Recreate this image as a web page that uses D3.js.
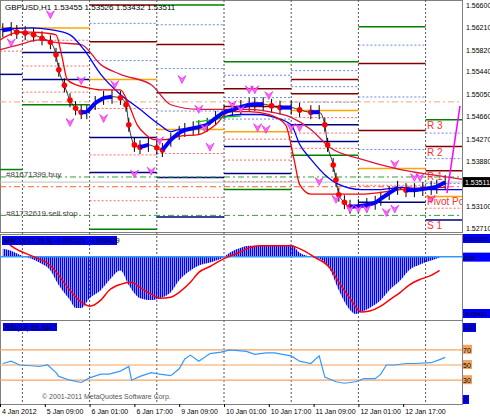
<!DOCTYPE html>
<html><head><meta charset="utf-8">
<script src="https://cdn.jsdelivr.net/npm/d3@7"></script>
<style>body{margin:0;background:#fff}svg{font-family:"Liberation Sans",Arial,sans-serif;font-size:8px}</style>
</head><body><svg id="c" width="490" height="420"></svg>
<script>
// bar index (H1) vs values
const priceData = [[1,1.5616],[4,1.5618],[6,1.5613],[9,1.5611],[12,1.5608],[15,1.5602],[18,1.5595],[20,1.5573],[21,1.5547],[23,1.5520],[25,1.5494],[27,1.5480],[29,1.5473],[31,1.5473],[34,1.5489],[37,1.5498],[40,1.5500],[43,1.5498],[45,1.5486],[46,1.5451],[48,1.5416],[50,1.5412],[53,1.5416],[56,1.5411],[58,1.5407],[61,1.5425],[64,1.5437],[66,1.5442],[69,1.5445],[71,1.5447],[74,1.5451],[77,1.5463],[80,1.5473],[83,1.5477],[86,1.5482],[89,1.5486],[91,1.5487],[94,1.5487],[97,1.5484],[100,1.5481],[104,1.5481],[107,1.5477],[111,1.5473],[114,1.5473],[116,1.5451],[117,1.5416],[119,1.5381],[120,1.5355],[121,1.5329],[123,1.5316],[125,1.5308],[128,1.5309],[131,1.5311],[134,1.5315],[136,1.5322],[139,1.5332],[142,1.5341],[145,1.5337],[148,1.5337],[151,1.5339],[154,1.5341],[156,1.5343],[159,1.5351]];
const fastMA = [[0,1.5599],[7,1.5613],[14,1.5612],[20,1.5608],[22,1.5573],[24,1.5530],[27,1.5521],[31,1.5516],[36,1.5512],[43,1.5512],[46,1.5486],[49,1.5451],[52,1.5434],[55,1.5425],[59,1.5425],[64,1.5431],[71,1.5434],[77,1.5451],[82,1.5474],[89,1.5474],[96,1.5469],[102,1.5451],[105,1.5391],[107,1.5347],[111,1.5330],[121,1.5330],[129,1.5330],[136,1.5333],[143,1.5338],[159,1.5342]];
const midMA = [[0,1.5617],[11,1.5620],[18,1.5617],[25,1.5608],[30,1.5582],[36,1.5539],[43,1.5504],[50,1.5478],[57,1.5451],[61,1.5439],[64,1.5443],[71,1.5446],[79,1.5464],[86,1.5469],[93,1.5469],[98,1.5464],[104,1.5451],[107,1.5417],[111,1.5391],[116,1.5364],[121,1.5347],[129,1.5338],[136,1.5338],[143,1.5342],[154,1.5338],[165,1.5338]];
const slowMA = [[0,1.5582],[7,1.5591],[14,1.5599],[21,1.5594],[29,1.5591],[36,1.5556],[43,1.5539],[54,1.5521],[61,1.5486],[71,1.5478],[79,1.5478],[89,1.5478],[96,1.5474],[104,1.5464],[111,1.5443],[118,1.5411],[129,1.5391],[143,1.5373],[154,1.5364],[165,1.5356]];
const greenMA = [[70,1.5456],[76,1.5460],[80,1.5464],[86,1.5466]];
// daily pivots: start bar, end bar, [R3,R2,R1,P,S1,S2,S3]
const dayStart = [0,8,32,56,80,104,128,152];
const dayEnd = [8,32,56,80,104,128,152,165];
const pivots = [
  [null,null,null,1.5620,1.5539,null,1.5373],
  [null,null,null,1.5620,1.5577,1.5530,1.5486],
  [null,1.5660,1.5596,1.5530,1.5429,1.5368,1.5269],
  [1.5660,1.5591,1.5507,1.5443,1.5359,1.5290,null],
  [1.5561,1.5514,1.5483,1.5439,1.5413,1.5366,1.5338],
  [1.5561,1.5530,1.5505,1.5476,1.5451,1.5422,1.5398],
  [1.5622,1.5558,1.5441,1.5375,1.5316,null,null],
  [1.5460,1.5413,1.5371,1.5326,1.5285,null,null]];
const pivotColors = ["#008000","#800000","#800000","#ffa500","#000080","#000080","#008000"];
const pivotNames = ["R 3","R 2","R 1","Pivot Poi","S 1"];
const fractals = [[18,1.5643],[4,1.5594],[25,1.5455],[41,1.5521],[37,1.5462],[29,1.5528],[48,1.5365],[54,1.5370],[65,1.5530],[71,1.5478],[73,1.5446],[75,1.5412],[57,1.5423],[89,1.5512],[91,1.5512],[96,1.5502],[83,1.5486],[86,1.5478],[92,1.5446],[95,1.5443],[104,1.5446],[107,1.5446],[114,1.5352],[120,1.5321],[125,1.5304],[128,1.5304],[131,1.5304],[138,1.5298],[141,1.5304],[141,1.5382],[148,1.5359],[150,1.5359],[154,1.5321]];
const macdHist = [[1,0.00058],[4,0.00043],[7,0.00014],[11,-0.00014],[14,-0.00043],[18,-0.00101],[21,-0.00209],[25,-0.00317],[27,-0.00375],[29,-0.00375],[32,-0.00303],[36,-0.00245],[39,-0.00173],[43,-0.00101],[46,-0.00209],[50,-0.00303],[54,-0.00317],[57,-0.00303],[61,-0.00260],[64,-0.00173],[68,-0.00101],[71,-0.00065],[75,-0.00043],[79,-0.00014],[82,0.00029],[86,0.00065],[89,0.00079],[96,0.00079],[104,0.00087],[107,0.00029],[111,0],[114,-0.00014],[118,-0.00101],[121,-0.00245],[125,-0.00389],[127,-0.00418],[129,-0.00404],[132,-0.00375],[136,-0.00317],[139,-0.00245],[143,-0.00173],[146,-0.00101],[150,-0.00058],[154,-0.00029],[157,-0.00007]];
const macdSignal = [[1,0.00137],[4,0.00079],[7,0.00043],[12,0],[18,-0.00065],[21,-0.00137],[25,-0.00245],[29,-0.00332],[32,-0.00361],[36,-0.00317],[39,-0.00245],[43,-0.00202],[47,-0.00187],[50,-0.00224],[54,-0.00274],[57,-0.00303],[61,-0.00296],[64,-0.00260],[68,-0.00187],[71,-0.00115],[75,-0.00072],[80,-0.00014],[86,0.00036],[89,0.00065],[93,0.00079],[104,0.00079],[107,0.00058],[112,0],[118,-0.00087],[121,-0.00187],[125,-0.00303],[129,-0.00404],[132,-0.00397],[136,-0.00361],[139,-0.00317],[143,-0.00260],[146,-0.00209],[150,-0.00166],[154,-0.00137],[157,-0.00101]];
const rsi = [[1,52],[4,55],[7,50],[11,49],[14,48],[17,50],[20,40],[21,35],[25,30],[29,27],[32,33],[36,38],[39,38],[43,42],[46,48],[47,30],[50,35],[54,40],[57,38],[61,36],[64,45],[66,58],[68,63],[71,55],[75,65],[79,67],[82,70],[88,68],[91,64],[95,66],[98,66],[104,62],[107,55],[111,52],[114,62],[116,34],[120,28],[123,26],[127,28],[130,32],[134,32],[136,38],[138,50],[141,50],[145,52],[148,52],[154,53],[157,57],[159,60]];
const priceTicks = [1.5660,1.5621,1.5582,1.5544,1.5505,1.5466,1.5427,1.5388,1.5310,1.5271];
const timeLabels = [[0,"4 Jan 2012"],[16,"5 Jan 09:00"],[32,"6 Jan 01:00"],[48,"6 Jan 17:00"],[64,"9 Jan 09:00"],[80,"10 Jan 01:00"],[96,"10 Jan 17:00"],[112,"11 Jan 09:00"],[128,"12 Jan 01:00"],[144,"12 Jan 17:00"]];
const gridBars = [8,32,56,80,104,128,152];

const svg = d3.select("#c");
const W = 462;
const x = d3.scaleLinear().domain([0, 165]).range([0, 462]);
const y = d3.scaleLinear().domain([1.5271, 1.5660]).range([228, 5]);
const ym = d3.scaleLinear().domain([-0.00411, 0.001505]).range([313, 236]);
const yr = d3.scaleLinear().domain([0, 100]).range([403, 327]);

const defs = svg.append("defs");
defs.append("clipPath").attr("id", "cm").append("rect").attr("width", W).attr("height", 232);
const pat = defs.append("pattern").attr("id", "stripes").attr("width", 2).attr("height", 10).attr("patternUnits", "userSpaceOnUse");
pat.append("rect").attr("width", 1.4).attr("height", 10).attr("fill", "#0000ff");

// panel frames
[[0,0,232],[0,234,86],[0,320,84]].forEach(([a,b,h]) => svg.append("rect").attr("x", a+0.5).attr("y", b+0.5).attr("width", W).attr("height", h).attr("fill", "none").attr("stroke", "#808080"));

// vertical grid
svg.selectAll(".vg").data(gridBars).join("line").attr("x1", d => x(d)).attr("x2", d => x(d))
  .attr("y1", 0).attr("y2", 404).attr("stroke", "#555").attr("stroke-dasharray", "2,2");

const main = svg.append("g").attr("clip-path", "url(#cm)");
// pivot levels
pivots.forEach((lv, i) => lv.forEach((v, k) => {
  if (v == null) return;
  main.append("line").attr("x1", x(dayStart[i])).attr("x2", x(dayEnd[i])).attr("y1", y(v)).attr("y2", y(v))
    .attr("stroke", pivotColors[k]).attr("stroke-width", 1.5);
  if (k < 6 && lv[k+1] != null) {
    const m = (v + lv[k+1]) / 2;
    main.append("line").attr("x1", x(dayStart[i])).attr("x2", x(dayEnd[i])).attr("y1", y(m)).attr("y2", y(m))
      .attr("stroke", k < 3 ? "#4169e1" : "#ff4040").attr("stroke-dasharray", "2,2").attr("stroke-width", 0.8);
  }
}));
// order lines
[[1.5360,"#32a032"],[1.5343,"#ff6020"],[1.5293,"#32a032"],[1.5491,"#f4a582"]].forEach(([v,c]) =>
  main.append("line").attr("x1", 0).attr("x2", W).attr("y1", y(v)).attr("y2", y(v)).attr("stroke", c).attr("stroke-dasharray", "6,3,2,3"));
main.append("line").attr("x1", 0).attr("x2", W).attr("y1", y(1.53511)).attr("y2", y(1.53511)).attr("stroke", "#c0c0c0");

const line = d3.line().x(d => x(d[0])).y(d => y(d[1])).curve(d3.curveMonotoneX);
// bars
main.selectAll(".bar").data(priceData).join("line").attr("x1", d => x(d[0])).attr("x2", d => x(d[0]))
  .attr("y1", d => y(d[1]) - 7).attr("y2", d => y(d[1]) + 7).attr("stroke", "#000");
main.append("path").datum(priceData).attr("d", line).attr("fill", "none").attr("stroke", "#000").attr("stroke-width", 0.8);
main.append("path").datum(slowMA).attr("d", line).attr("fill", "none").attr("stroke", "#dc143c").attr("stroke-width", 1.3);
main.append("path").datum(midMA).attr("d", line).attr("fill", "none").attr("stroke", "#0000ff").attr("stroke-width", 1.3);
main.append("path").datum(fastMA).attr("d", line).attr("fill", "none").attr("stroke", "#ff0000").attr("stroke-width", 1.3);
main.append("path").datum(greenMA).attr("d", line).attr("fill", "none").attr("stroke", "#00cc00").attr("stroke-width", 1.2);
// trend line: blue when rising, red dots when falling
priceData.slice(1).forEach((d, i) => {
  const p = priceData[i];
  if (d[1] >= p[1]) main.append("line").attr("x1", x(p[0])).attr("y1", y(p[1])).attr("x2", x(d[0])).attr("y2", y(d[1])).attr("stroke", "#0000ff").attr("stroke-width", 4);
  else main.append("circle").attr("cx", x(d[0])).attr("cy", y(d[1])).attr("r", 2.8).attr("fill", "#ff0000");
});
// fractal arrows
main.selectAll(".fr").data(fractals).join("path")
  .attr("transform", d => `translate(${x(d[0])},${y(d[1])})`)
  .attr("d", "M-4,-4 L0,-1 L4,-4 L0,4 Z").attr("fill", "#ff66ff").attr("stroke", "#dd00dd").attr("stroke-width", 0.5);
main.append("line").attr("x1", 447).attr("y1", y(1.5332)).attr("x2", 460).attr("y2", y(1.5484)).attr("stroke", "#ff00ff").attr("stroke-width", 1.5);
// pivot labels
pivots[7].slice(0, 5).forEach((v, k) => main.append("text").attr("x", 427).attr("y", y(v) + 9).attr("fill", "#ff3030").attr("font-size", 10).text(pivotNames[k]));

svg.append("text").attr("x", 5).attr("y", 10).text("GBPUSD,H1  1.53455 1.53526 1.53432 1.53511");
svg.append("text").attr("x", 6).attr("y", 177).attr("fill", "#444").text("#81671399 buy");
svg.append("text").attr("x", 6).attr("y", 216).attr("fill", "#444").text("#81732619 sell stop");

// price axis
svg.selectAll(".pt").data(priceTicks).join("text").attr("x", 466).attr("y", d => y(d) + 3).attr("font-size", 7).text(d => d.toFixed(5));
svg.append("rect").attr("x", 463).attr("y", y(1.53511) - 5).attr("width", 27).attr("height", 10).attr("fill", "#000");
svg.append("text").attr("x", 465).attr("y", y(1.53511) + 3).attr("fill", "#fff").attr("font-size", 7).text("1.53511");

// MACD
svg.append("path").datum(macdHist).attr("d", d3.area().x(d => x(d[0])).y0(ym(0)).y1(d => ym(d[1])).curve(d3.curveMonotoneX)).attr("fill", "url(#stripes)");
svg.append("line").attr("x1", 0).attr("x2", W).attr("y1", ym(0)).attr("y2", ym(0)).attr("stroke", "#3399ff").attr("stroke-width", 1.5);
svg.append("path").datum(macdSignal).attr("d", d3.line().x(d => x(d[0])).y(d => ym(d[1])).curve(d3.curveMonotoneX)).attr("fill", "none").attr("stroke", "#ff0000").attr("stroke-width", 1.5);
svg.append("rect").attr("x", 2).attr("y", 236).attr("width", 115).attr("height", 9).attr("fill", "#0000ff");
svg.append("text").attr("x", 4).attr("y", 243).attr("font-size", 7).attr("fill", "#000").text("MACD(12,26,9) -0.000121 -0.000429");
[[0.001505,"0.001505",241],[0,"0.00",ym(0)+3],[-0.00411,"-0.00411",316]].forEach(([v,t,yy]) => {
  svg.append("rect").attr("x", 463).attr("y", yy - 7).attr("width", 27).attr("height", 9).attr("fill", "#0000ff");
  svg.append("text").attr("x", 464).attr("y", yy).attr("font-size", 6).text(t);
});

// RSI
[70,50,30].forEach(v => {
  svg.append("line").attr("x1", 0).attr("x2", W).attr("y1", yr(v)).attr("y2", yr(v)).attr("stroke", "#f4a460").attr("stroke-width", 1.2);
  svg.append("rect").attr("x", 463).attr("y", yr(v) - 5).attr("width", 9).attr("height", 9).attr("fill", "#f4a460");
  svg.append("text").attr("x", 463).attr("y", yr(v) + 3).attr("font-size", 7).text(v);
});
svg.append("path").datum(rsi).attr("d", d3.line().x(d => x(d[0])).y(d => yr(d[1]))).attr("fill", "none").attr("stroke", "#3399ff").attr("stroke-width", 1.2);
svg.append("rect").attr("x", 3).attr("y", 323).attr("width", 54).attr("height", 8).attr("fill", "#0000ff");
svg.append("text").attr("x", 5).attr("y", 330).attr("font-size", 7).text("RSI(14) 55.3647");
[[100,330],[0,402]].forEach(([v,yy]) => {
  svg.append("rect").attr("x", 463).attr("y", yy - 7).attr("width", v ? 13 : 6).attr("height", 9).attr("fill", "#0000ff");
  svg.append("text").attr("x", 464).attr("y", yy).attr("font-size", 7).text(v);
});
svg.append("text").attr("x", 42).attr("y", 399).attr("font-size", 7).attr("fill", "#555").text("© 2001-2011 MetaQuotes Software Corp.");

// time axis
svg.selectAll(".tl").data(timeLabels).join("text").attr("x", d => x(d[0]) + 2).attr("y", 414).attr("font-size", 7).text(d => d[1]);
svg.selectAll(".tk").data(timeLabels).join("line").attr("x1", d => x(d[0]) + 0.5).attr("x2", d => x(d[0]) + 0.5).attr("y1", 404).attr("y2", 407).attr("stroke", "#000");
</script></body></html>
